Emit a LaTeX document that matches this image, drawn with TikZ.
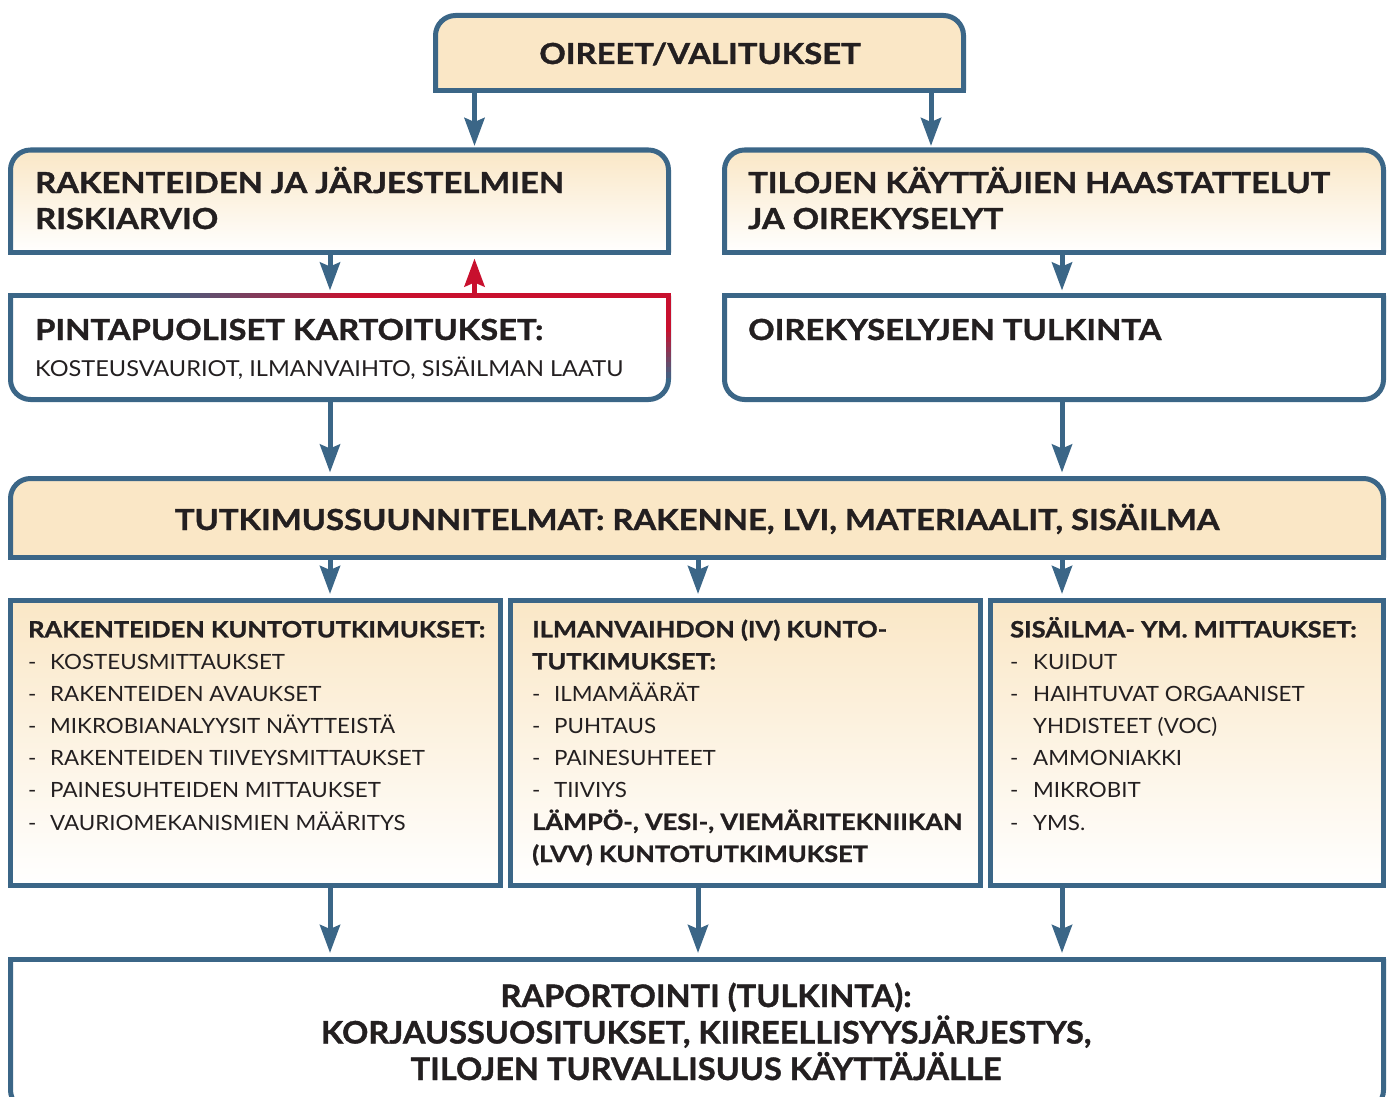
\documentclass[tikz,border=0pt]{standalone}
\usepackage{fontspec}
\setmainfont{Lato}
\newfontfamily\hdfont{Lato}[FakeStretch=1.13, BoldFeatures={FakeBold=1.2}]
\newfontfamily\itfont{Lato}[FakeStretch=1.065]
\newfontfamily\subfont{Lato}[FakeStretch=1.07]
\newfontfamily\repfont{Lato}[FakeStretch=1.05, BoldFeatures={FakeBold=1.2}]
\usetikzlibrary{arrows.meta,fit}
\definecolor{bblue}{RGB}{59,102,135}
\definecolor{rred}{RGB}{200,16,46}
\definecolor{tanc}{RGB}{250,231,198}
\definecolor{ink}{RGB}{35,31,32}
\tikzset{
  frame/.style={draw=bblue, line width=5pt},
  gradfill/.style={top color=tanc, bottom color=white},
  solidfill/.style={fill=tanc},
  nofill/.style={fill=white},
  boxnode/.style={inner sep=0pt, outer sep=0pt},
  hd/.style={font=\hdfont\bfseries\fontsize{29}{36}\selectfont, text=ink, inner sep=0pt, anchor=base west, align=left},
  sub/.style={font=\subfont\fontsize{22}{26}\selectfont, text=ink, inner sep=0pt, anchor=base west},
  lst/.style={font=\itfont\fontsize{21}{32.1}\selectfont, text=ink, inner sep=0pt, anchor=base west, align=left},
  rep/.style={font=\repfont\bfseries\fontsize{31}{36.5}\selectfont, text=ink, inner sep=0pt, anchor=base, align=center},
  arr/.style={draw=bblue, line width=5pt, -{Stealth[length=28pt,width=20pt,inset=4pt]}},
  redarr/.style={draw=rred, line width=5pt, -{Stealth[length=28pt,width=20pt,inset=4pt]}},
}
\newcommand\boxT[3]{%
  \draw[frame,#2,rounded corners=#3] (#1.south west) -- (#1.north west) -- (#1.north east) -- (#1.south east);
  \draw[frame,line cap=rect] (#1.south west) -- (#1.south east);}
\newcommand\boxB[3]{%
  \draw[frame,#2,rounded corners=#3] (#1.north west) -- (#1.south west) -- (#1.south east) -- (#1.north east);
  \draw[frame,line cap=rect] (#1.north west) -- (#1.north east);}
\newcommand\boxS[2]{%
  \draw[frame,#2] (#1.south west) rectangle (#1.north east);}
\newcommand\itm{\makebox[22pt][l]{-}}
\newcommand\itmr{\makebox[23pt][l]{-}}
\newcommand\boxhd{\hdfont\bfseries\fontsize{22.5}{32.1}\selectfont}
\begin{document}
\begin{tikzpicture}[x=1pt,y=-1pt]
\useasboundingbox (0,0) rectangle (1389,1097);
\clip (0,0) rectangle (1389,1097);
% box nodes
\node[boxnode, fit={(435.5,15.5) (963.5,90.5)}] (oireet) {};
\node[boxnode, fit={(10.5,150) (668.5,252.5)}] (riski) {};
\node[boxnode, fit={(724.5,150) (1383.5,252.5)}] (tilojen) {};
\node[boxnode, fit={(10.5,295.5) (668.5,399.5)}] (pinta) {};
\node[boxnode, fit={(724.5,295.5) (1383.5,399.5)}] (tulk) {};
\node[boxnode, fit={(10.5,478.5) (1383.5,557.5)}] (tutk) {};
\node[boxnode, fit={(10.5,600) (500.5,885.5)}] (rak) {};
\node[boxnode, fit={(510.5,600) (980.5,885.5)}] (ilma) {};
\node[boxnode, fit={(990.5,600) (1383.5,885.5)}] (sis) {};
\node[boxnode, fit={(10.5,959) (1383.5,1110)}] (rap) {};
% outlines
\boxT{oireet}{solidfill}{20pt}
\boxT{riski}{gradfill}{20pt}
\boxT{tilojen}{gradfill}{20pt}
\boxB{pinta}{nofill}{20pt}
\boxB{tulk}{nofill}{20pt}
\boxT{tutk}{solidfill}{20pt}
\boxS{rak}{gradfill}
\boxS{ilma}{gradfill}
\boxS{sis}{gradfill}
\boxB{rap}{nofill}{20pt}
% red highlighted part of pinta frame
\foreach \i in {0,...,19}{
  \pgfmathsetmacro\pc{100-\i*5}
  \draw[line width=5pt, color=bblue!\pc!rred] (150+\i*10,295.5) -- (160.5+\i*10,295.5);
}
\draw[line width=5pt, rred] (350,295.5) -- (668.5,295.5) -- (668.5,327.5);
\foreach \i in {0,...,9}{
  \pgfmathsetmacro\pc{\i*10}
  \draw[line width=5pt, color=bblue!\pc!rred] (668.5,327+\i*5) -- (668.5,332.5+\i*5);
}
% texts
\node[hd, anchor=base] (t-oireet) at (700,64) {OIREET/VALITUKSET};
\node[hd] (t-riski) at (35,229) {RAKENTEIDEN JA JÄRJESTELMIEN\\RISKIARVIO};
\node[hd] (t-tilojen) at (748,229) {TILOJEN KÄYTTÄJIEN HAASTATTELUT\\JA OIREKYSELYT};
\node[hd] (t-pinta) at (35,340) {PINTAPUOLISET KARTOITUKSET:};
\node[sub] (t-pinta2) at (35,376) {KOSTEUSVAURIOT, ILMANVAIHTO, SISÄILMAN LAATU};
\node[hd] (t-tulk) at (748,340) {OIREKYSELYJEN TULKINTA};
\node[hd, anchor=base] (t-tutk) at (697,530) {TUTKIMUSSUUNNITELMAT: RAKENNE, LVI, MATERIAALIT, SISÄILMA};
\node[lst] (t-rak) at (28,830) {{\boxhd RAKENTEIDEN KUNTOTUTKIMUKSET:}\\
\itm KOSTEUSMITTAUKSET\\
\itm RAKENTEIDEN AVAUKSET\\
\itm MIKROBIANALYYSIT NÄYTTEISTÄ\\
\itm RAKENTEIDEN TIIVEYSMITTAUKSET\\
\itm PAINESUHTEIDEN MITTAUKSET\\
\itm VAURIOMEKANISMIEN MÄÄRITYS};
\node[lst] (t-ilma) at (532,862) {{\boxhd ILMANVAIHDON (IV) KUNTO-}\\
{\boxhd TUTKIMUKSET:}\\
\itm ILMAMÄÄRÄT\\
\itm PUHTAUS\\
\itm PAINESUHTEET\\
\itm TIIVIYS\\
{\boxhd LÄMPÖ-, VESI-, VIEMÄRITEKNIIKAN}\\
{\boxhd (LVV) KUNTOTUTKIMUKSET}};
\node[lst] (t-sis) at (1010,830) {{\boxhd SISÄILMA- YM. MITTAUKSET:}\\
\itmr KUIDUT\\
\itmr HAIHTUVAT ORGAANISET\\
\hspace*{23pt}YHDISTEET (VOC)\\
\itmr AMMONIAKKI\\
\itmr MIKROBIT\\
\itmr YMS.};
\node[rep] (t-rap) at (706,1080) {RAPORTOINTI (TULKINTA):\\KORJAUSSUOSITUKSET, KIIREELLISYYSJÄRJESTYS,\\TILOJEN TURVALLISUUS KÄYTTÄJÄLLE};
% connectors
\coordinate (xa) at (474.5,0);
\coordinate (xb) at (931,0);
\coordinate (xl) at (330,0);
\coordinate (xm) at (698,0);
\coordinate (xr) at (1062,0);
\draw[arr, shorten >=4pt] (oireet.south -| xa) -- (riski.north -| xa);
\draw[arr, shorten >=4pt] (oireet.south -| xb) -- (tilojen.north -| xb);
\draw[arr, shorten >=5pt] (riski.south -| xl) -- (pinta.north -| xl);
\draw[arr, shorten >=5pt] (tilojen.south -| xr) -- (tulk.north -| xr);
\draw[redarr, shorten >=6pt] (pinta.north -| xa) -- (riski.south -| xa);
\draw[arr, shorten >=6pt] (pinta.south -| xl) -- (tutk.north -| xl);
\draw[arr, shorten >=6pt] (tulk.south -| xr) -- (tutk.north -| xr);
\draw[arr, shorten >=6pt] (tutk.south -| xl) -- (rak.north -| xl);
\draw[arr, shorten >=6pt] (tutk.south -| xm) -- (ilma.north -| xm);
\draw[arr, shorten >=6pt] (tutk.south -| xr) -- (sis.north -| xr);
\draw[arr, shorten >=6pt] (rak.south -| xl) -- (rap.north -| xl);
\draw[arr, shorten >=6pt] (ilma.south -| xm) -- (rap.north -| xm);
\draw[arr, shorten >=6pt] (sis.south -| xr) -- (rap.north -| xr);
\end{tikzpicture}
\end{document}
